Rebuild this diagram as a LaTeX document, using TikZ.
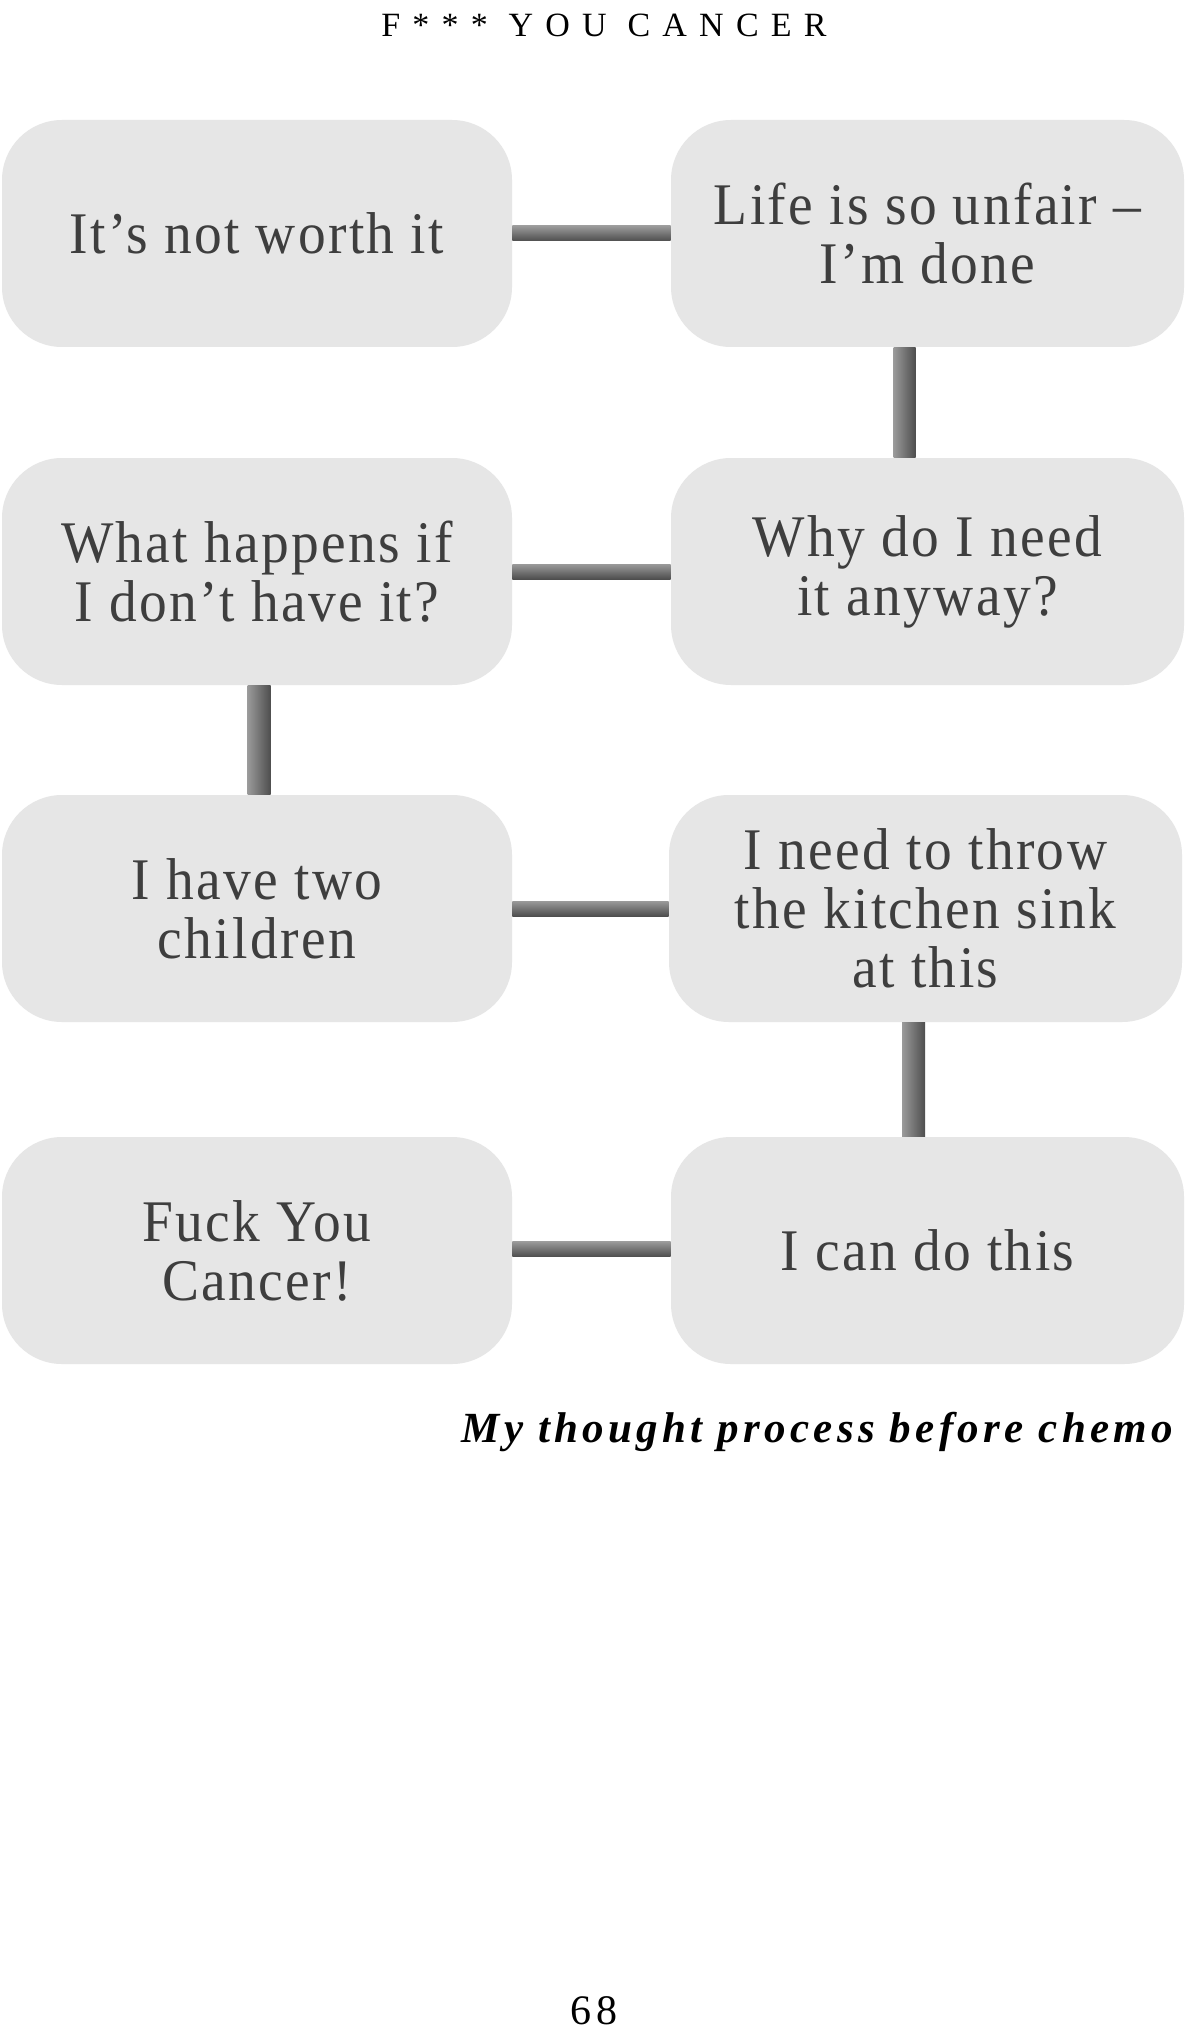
\documentclass[tikz,border=0pt]{standalone}
\usepackage{fontspec}
\setmainfont{Liberation Serif}
\newfontfamily\bodyfont[LetterSpace=4,FakeStretch=0.94]{Liberation Serif}
\newfontfamily\headfont[LetterSpace=36]{Liberation Serif}
\newfontfamily\capfont[LetterSpace=10]{Liberation Serif}
\newfontfamily\pagefont[LetterSpace=10]{Liberation Serif}
\usetikzlibrary{calc}
\definecolor{boxfill}{HTML}{E6E6E6}
\definecolor{txt}{HTML}{3E3E3E}
\definecolor{barlight}{HTML}{9A9A9A}
\definecolor{bardark}{HTML}{4E4E4E}
\tikzset{
  thought/.style={fill=boxfill, rounded corners=30pt, minimum width=255pt,
    minimum height=113.5pt, inner sep=0pt, align=center, text=txt,
    font=\bodyfont\fontsize{29.5}{29.5}\selectfont},
  thoughtR/.style={thought, minimum width=256.5pt},
  hbar/.style={top color=barlight, bottom color=bardark},
  vbar/.style={left color=barlight, right color=bardark}
}
\begin{document}
\begin{tikzpicture}[x=0.5pt,y=-0.5pt]
\useasboundingbox (0,0) rectangle (1200,2038);
\fill[white] (0,0) rectangle (1200,2038);
\node[font=\headfont\fontsize{17}{20}\selectfont, anchor=base] (hdr) at (604,37) {F*** YOU CANCER};
% boxes
\node[thought]  (b1) at (257,233.5)  {It’s not worth it};
\node[thoughtR] (b2) at (927.5,233.5) {Life is so unfair –\\I’m done};
\node[thought]  (b3) at (257,571.5)  {What happens if\\I don’t have it?};
\node[thoughtR] (b4) at (927.5,571.5) {Why do I need\\it anyway?};
\node[thought]  (b5) at (257,908.5)  {I have two\\children};
\node[thoughtR] (b6) at (925.5,908.5) {I need to throw\\the kitchen sink\\at this};
\node[thought]  (b7) at (257,1250.5) {Fuck You\\Cancer!};
\node[thoughtR] (b8) at (927.5,1250.5) {I can do this};
% connectors
\shade[hbar] ($(b1.east)+(0,-7.5)$) rectangle ($(b2.west)+(0,7.5)$);
\shade[vbar] ($(b2.south)+(-34,0)$) rectangle ($(b4.north)+(-12,0)$);
\shade[hbar] ($(b3.east)+(0,-7.5)$) rectangle ($(b4.west)+(0,7.5)$);
\shade[vbar] ($(b3.south)+(-9.5,0)$) rectangle ($(b5.north)+(13.5,0)$);
\shade[hbar] ($(b5.east)+(0,-7.5)$) rectangle ($(b6.west)+(0,7.5)$);
\shade[vbar] ($(b6.south)+(-23.5,0)$) rectangle ($(b8.north)+(-2.5,0)$);
\shade[hbar] ($(b7.east)+(0,-9)$) rectangle ($(b8.west)+(0,6)$);
% caption and page number
\node[font=\capfont\bfseries\itshape\fontsize{21.5}{24}\selectfont, anchor=base east] (cap) at (1180,1442) {My thought process before chemo};
\node[font=\pagefont\fontsize{21}{24}\selectfont, anchor=base] (pg) at (594,2024) {68};
\end{tikzpicture}
\end{document}
